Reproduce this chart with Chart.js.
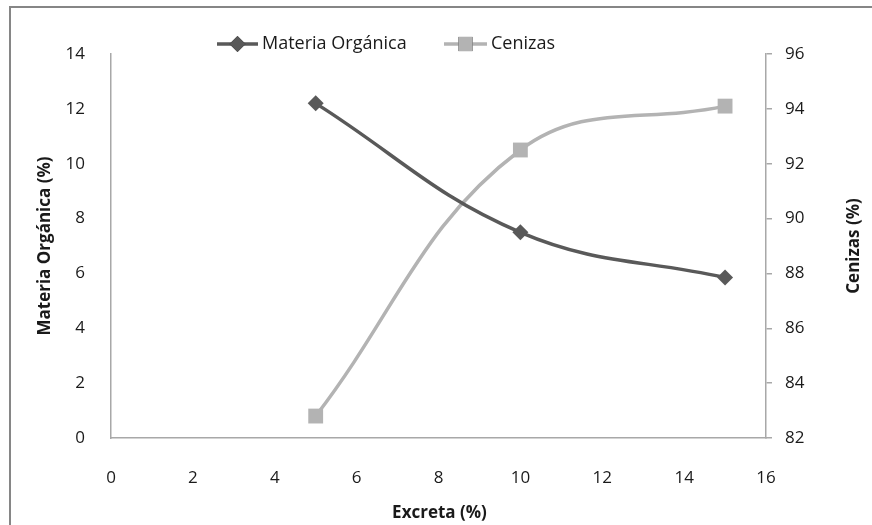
<!DOCTYPE html>
<html>
<head>
<meta charset="utf-8">
<script src="https://cdn.jsdelivr.net/npm/chart.js@4"></script>
<style>
  html, body { margin: 0; padding: 0; background: #ffffff; }
  #wrap { width: 872px; height: 525px; position: relative; }
</style>
</head>
<body>
<div id="wrap"><canvas id="chart" width="872" height="525"></canvas></div>
<script>
// Excreta content (%) on the horizontal axis
const excreta = [5, 10, 15];
// Organic matter (%) — left axis
const materiaOrganica = [12.2, 7.5, 5.85];
// Ash (%) — right axis
const cenizas = [82.8, 92.5, 94.1];

const xTicks = { min: 0, max: 16, step: 2 };
const yLeftTicks = { min: 0, max: 14, step: 2 };
const yRightTicks = { min: 82, max: 96, step: 2 };

const labelMO = 'Materia Orgánica';
const labelCen = 'Cenizas';
const titleX = 'Excreta (%)';
const titleYLeft = 'Materia Orgánica (%)';
const titleYRight = 'Cenizas (%)';

const FONT = '"Open Sans", "Noto Sans", sans-serif';
const TEXT = '#1a1a1a';
const AXIS = '#a8a8a8';
const DARK = '#595959';
const LIGHT = '#b3b3b3';

const toPoints = (xs, ys) => xs.map((x, i) => ({ x, y: ys[i] }));

// Frame, axis titles and the legend are painted here
const decorations = {
  id: 'decorations',
  afterDraw(chart) {
    const ctx = chart.ctx;
    const area = chart.chartArea;
    ctx.save();

    // outer frame
    ctx.strokeStyle = '#868686';
    ctx.lineWidth = 2;
    ctx.strokeRect(10, 7, 900, 560);

    // axis titles
    ctx.fillStyle = TEXT;
    ctx.font = 'bold 17px ' + FONT;
    ctx.textAlign = 'center';
    ctx.textBaseline = 'middle';
    ctx.fillText(titleX, (area.left + area.right) / 2 + 1, 513);

    const midY = (area.top + area.bottom) / 2;
    ctx.save();
    ctx.translate(45, midY);
    ctx.rotate(-Math.PI / 2);
    ctx.fillText(titleYLeft, 0, 0);
    ctx.restore();

    ctx.save();
    ctx.translate(854, midY);
    ctx.rotate(-Math.PI / 2);
    ctx.fillText(titleYRight, 0, 0);
    ctx.restore();

    // legend: line with marker, then label
    const entries = [
      { ds: chart.data.datasets[0], x0: 217, len: 41, r: 8 },
      { ds: chart.data.datasets[1], x0: 444, len: 43, r: 10 }
    ];
    const ly = 44;
    ctx.font = '18px ' + FONT;
    ctx.textAlign = 'left';
    entries.forEach(({ ds, x0, len, r }) => {
      ctx.strokeStyle = ds.borderColor;
      ctx.lineWidth = ds.borderWidth;
      ctx.beginPath();
      ctx.moveTo(x0, ly);
      ctx.lineTo(x0 + len, ly);
      ctx.stroke();
      Chart.helpers.drawPoint(ctx, {
        pointStyle: ds.pointStyle,
        radius: r,
        borderWidth: 0,
        rotation: 0
      }, x0 + len / 2, ly);
      ctx.fillStyle = ds.pointBackgroundColor;
      ctx.fill();
      ctx.fillStyle = TEXT;
      ctx.fillText(ds.label, x0 + len + 4, ly);
    });

    ctx.restore();
  }
};

new Chart(document.getElementById('chart'), {
  type: 'line',
  data: {
    datasets: [
      {
        label: labelMO,
        data: toPoints(excreta, materiaOrganica),
        yAxisID: 'y',
        borderColor: DARK,
        borderWidth: 3.5,
        pointStyle: 'rectRot',
        pointRadius: 8,
        pointBorderWidth: 0,
        pointBackgroundColor: DARK,
        tension: 0.4,
        fill: false
      },
      {
        label: labelCen,
        data: toPoints(excreta, cenizas),
        yAxisID: 'y1',
        borderColor: LIGHT,
        borderWidth: 3.5,
        pointStyle: 'rect',
        pointRadius: 10.5,
        pointBorderWidth: 0,
        pointBackgroundColor: LIGHT,
        tension: 0.4,
        fill: false
      }
    ]
  },
  options: {
    responsive: false,
    animation: false,
    layout: { padding: { top: 54, left: 0, right: 0, bottom: 0 } },
    plugins: {
      legend: { display: false },
      tooltip: { enabled: false }
    },
    scales: {
      x: {
        type: 'linear',
        min: xTicks.min,
        max: xTicks.max,
        grid: { display: false },
        border: { display: true, color: AXIS, width: 1.5 },
        ticks: { stepSize: xTicks.step, color: TEXT, font: { family: FONT, size: 17 }, padding: 22 },
        afterFit(scale) { scale.height = 87; }
      },
      y: {
        position: 'left',
        min: yLeftTicks.min,
        max: yLeftTicks.max,
        grid: { display: false },
        border: { display: true, color: AXIS, width: 1.5 },
        ticks: { stepSize: yLeftTicks.step, color: TEXT, font: { family: FONT, size: 17 }, padding: 18 },
        afterFit(scale) { scale.width = 111; }
      },
      y1: {
        position: 'right',
        min: yRightTicks.min,
        max: yRightTicks.max,
        grid: { display: true, drawOnChartArea: false, drawTicks: true, tickLength: 6, color: AXIS, lineWidth: 1.5 },
        border: { display: true, color: AXIS, width: 1.5 },
        ticks: { stepSize: yRightTicks.step, color: TEXT, font: { family: FONT, size: 17 }, padding: 13 },
        afterFit(scale) { scale.width = 106; }
      }
    }
  },
  plugins: [decorations]
});
</script>
</body>
</html>
